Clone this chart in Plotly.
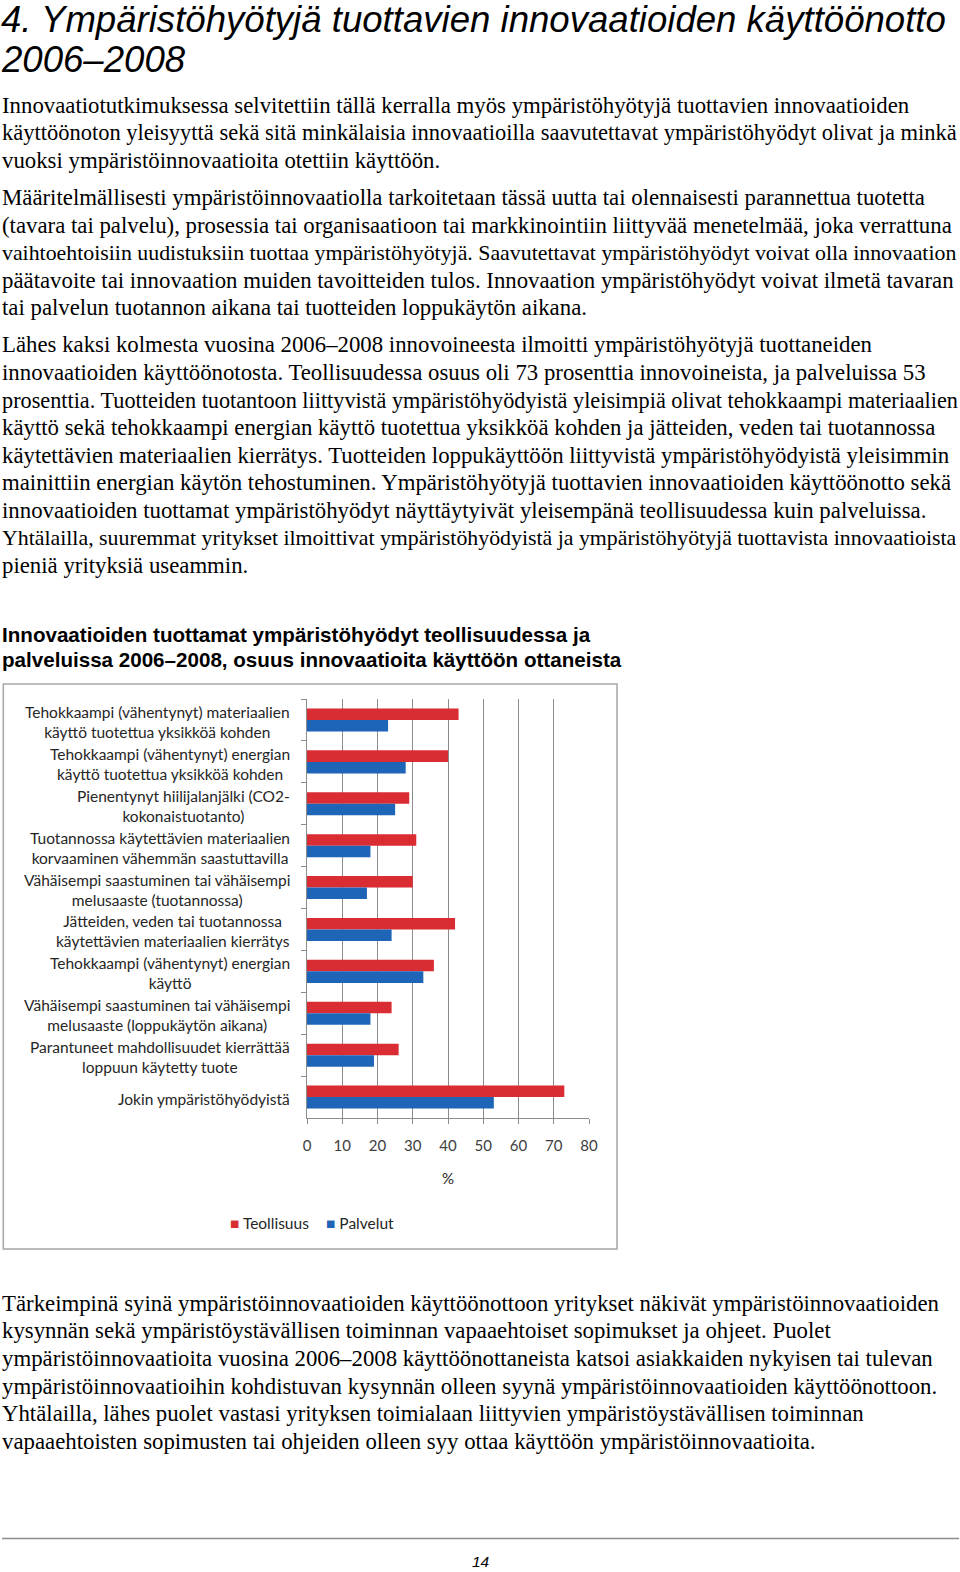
import plotly.graph_objects as go

# ---------------- data ----------------
categories = [
    "Tehokkaampi (vähentynyt) materiaalien<br>käyttö tuotettua yksikköä kohden",
    "Tehokkaampi (vähentynyt) energian<br>käyttö tuotettua yksikköä kohden",
    "Pienentynyt hiilijalanjälki (CO2-<br>kokonaistuotanto)",
    "Tuotannossa käytettävien materiaalien<br>korvaaminen vähemmän saastuttavilla",
    "Vähäisempi saastuminen tai vähäisempi<br>melusaaste (tuotannossa)",
    "Jätteiden, veden tai tuotannossa<br>käytettävien materiaalien kierrätys",
    "Tehokkaampi (vähentynyt) energian<br>käyttö",
    "Vähäisempi saastuminen tai vähäisempi<br>melusaaste (loppukäytön aikana)",
    "Parantuneet mahdollisuudet kierrättää<br>loppuun käytetty tuote",
    "Jokin ympäristöhyödyistä",
]
teollisuus = [43, 40, 29, 31, 30, 42, 36, 24, 26, 73]
palvelut = [23, 28, 25, 18, 17, 24, 33, 18, 19, 53]
series_names = ["Teollisuus", "Palvelut"]
x_ticks = [0, 10, 20, 30, 40, 50, 60, 70, 80]

title_lines = ["4. Ympäristöhyötyjä tuottavien innovaatioiden käyttöönotto", "2006–2008"]
para1 = [
    "Innovaatiotutkimuksessa selvitettiin tällä kerralla myös ympäristöhyötyjä tuottavien innovaatioiden",
    "käyttöönoton yleisyyttä sekä sitä minkälaisia innovaatioilla saavutettavat ympäristöhyödyt olivat ja minkä",
    "vuoksi ympäristöinnovaatioita otettiin käyttöön.",
]
para2 = [
    "Määritelmällisesti ympäristöinnovaatiolla tarkoitetaan tässä uutta tai olennaisesti parannettua tuotetta",
    "(tavara tai palvelu), prosessia tai organisaatioon tai markkinointiin liittyvää menetelmää, joka verrattuna",
    "vaihtoehtoisiin uudistuksiin tuottaa ympäristöhyötyjä. Saavutettavat ympäristöhyödyt voivat olla innovaation",
    "päätavoite tai innovaation muiden tavoitteiden tulos. Innovaation ympäristöhyödyt voivat ilmetä tavaran",
    "tai palvelun tuotannon aikana tai tuotteiden loppukäytön aikana.",
]
para3 = [
    "Lähes kaksi kolmesta vuosina 2006–2008 innovoineesta ilmoitti ympäristöhyötyjä tuottaneiden",
    "innovaatioiden käyttöönotosta. Teollisuudessa osuus oli 73 prosenttia innovoineista, ja palveluissa 53",
    "prosenttia. Tuotteiden tuotantoon liittyvistä ympäristöhyödyistä yleisimpiä olivat tehokkaampi materiaalien",
    "käyttö sekä tehokkaampi energian käyttö tuotettua yksikköä kohden ja jätteiden, veden tai tuotannossa",
    "käytettävien materiaalien kierrätys. Tuotteiden loppukäyttöön liittyvistä ympäristöhyödyistä yleisimmin",
    "mainittiin energian käytön tehostuminen. Ympäristöhyötyjä tuottavien innovaatioiden käyttöönotto sekä",
    "innovaatioiden tuottamat ympäristöhyödyt näyttäytyivät yleisempänä teollisuudessa kuin palveluissa.",
    "Yhtälailla, suuremmat yritykset ilmoittivat ympäristöhyödyistä ja ympäristöhyötyjä tuottavista innovaatioista",
    "pieniä yrityksiä useammin.",
]
chart_title = [
    "Innovaatioiden tuottamat ympäristöhyödyt teollisuudessa ja",
    "palveluissa 2006–2008, osuus innovaatioita käyttöön ottaneista",
]
para4 = [
    "Tärkeimpinä syinä ympäristöinnovaatioiden käyttöönottoon yritykset näkivät ympäristöinnovaatioiden",
    "kysynnän sekä ympäristöystävällisen toiminnan vapaaehtoiset sopimukset ja ohjeet. Puolet",
    "ympäristöinnovaatioita vuosina 2006–2008 käyttöönottaneista katsoi asiakkaiden nykyisen tai tulevan",
    "ympäristöinnovaatioihin kohdistuvan kysynnän olleen syynä ympäristöinnovaatioiden käyttöönottoon.",
    "Yhtälailla, lähes puolet vastasi yrityksen toimialaan liittyvien ympäristöystävällisen toiminnan",
    "vapaaehtoisten sopimusten tai ohjeiden olleen syy ottaa käyttöön ympäristöinnovaatioita.",
]
page_number = "14"
x_title = "%"

# ---------------- layout constants ----------------
W, H = 960, 1572
RED = "#DA2D33"
BLUE = "#1F65B7"
GRID = "#8c8c8c"
LABEL_FONT = "Lato, 'Open Sans', sans-serif"
SERIF = "'Liberation Serif', 'Times New Roman', serif"
SANS = "'Liberation Sans', Arial, sans-serif"
BODY_SIZE = 22.8
# tighter-set (justified) lines in the original
TIGHT = {("p1", 1): 22.5, ("p2", 2): 21.85, ("p3", 2): 22.25, ("p3", 7): 21.85}
TEXT_X = 2
STEP = 27.57


def py(y):
    return 1 - y / H


def px(x):
    return x / W


fig = go.Figure()
fig.add_trace(go.Bar(y=categories, x=teollisuus, name=series_names[0], orientation="h",
                     marker=dict(color=RED, line=dict(width=0))))
fig.add_trace(go.Bar(y=categories, x=palvelut, name=series_names[1], orientation="h",
                     marker=dict(color=BLUE, line=dict(width=0))))

annotations = []


def txt(text, x, y, size, family, xanchor="left", color="#000000", yref="paper", align="left", yshift=0):
    annotations.append(dict(
        text=text, x=px(x), y=(py(y) if yref == "paper" else y), xref="paper", yref=yref,
        xanchor=xanchor, yanchor="middle", showarrow=False, align=align, yshift=yshift,
        borderpad=0, borderwidth=0,
        font=dict(size=size, family=family, color=color),
    ))


def add_lines(key, lines, y0, step):
    for i, t in enumerate(lines):
        txt(t, TEXT_X, y0 + i * step, TIGHT.get((key, i), BODY_SIZE), SERIF)


# title
for i, t in enumerate(title_lines):
    txt("<i>" + t + "</i>", 1, 20 + i * 40, 36.6,
        "'Liberation Sans Narrow', 'Arial Narrow', 'Liberation Sans', sans-serif")

add_lines("p1", para1, 105.3, STEP)
add_lines("p2", para2, 197.5, STEP)
add_lines("p3", para3, 344.9, STEP)
add_lines("p4", para4, 1303.3, 27.6)

for i, t in enumerate(chart_title):
    txt("<b>" + t + "</b>", TEXT_X, 634 + i * 25, 20.6, SANS)

# category labels (centered multi-line, right-anchored)
for c in categories:
    txt(c, 290, c, 15.5, LABEL_FONT, xanchor="right", color="#262626", yref="y", align="center", yshift=-2)

# x axis title
txt(x_title, 448, 1178, 15, LABEL_FONT, xanchor="center", color="#262626")

# legend (as text swatches)
txt(f"<span style='color:{RED}'>■</span> {series_names[0]}", 230, 1223, 15.5, LABEL_FONT, color="#262626")
txt(f"<span style='color:{BLUE}'>■</span> {series_names[1]}", 326, 1223, 15.5, LABEL_FONT, color="#262626")

# page number
txt("<i>" + page_number + "</i>", 481, 1561, 15.5, SANS, xanchor="center")

shapes = [
    dict(type="rect", xref="paper", yref="paper", x0=px(3.3), x1=px(617), y0=py(684), y1=py(1249),
         line=dict(color="#a6a6a6", width=1.5), fillcolor="rgba(0,0,0,0)", layer="below"),
    dict(type="line", xref="paper", yref="paper", x0=px(2), x1=px(959), y0=py(1538.5), y1=py(1538.5),
         line=dict(color="#8c8c8c", width=1.5)),
]

fig.update_layout(
    width=W, height=H, autosize=False,
    margin=dict(l=0, r=0, t=0, b=0, pad=0, autoexpand=False),
    paper_bgcolor="white", plot_bgcolor="white",
    barmode="group", bargap=0.45, bargroupgap=0,
    showlegend=False,
    annotations=annotations,
    shapes=shapes,
    xaxis=dict(
        domain=[px(307), px(589)], range=[0, 80], tickvals=x_ticks, automargin=False,
        showgrid=True, gridcolor=GRID, gridwidth=1,
        ticks="outside", ticklen=5, tickcolor=GRID,
        showline=True, linecolor=GRID, linewidth=1, zeroline=False,
        tickfont=dict(size=15, family=LABEL_FONT, color="#404040"),
        ticklabelstandoff=9, fixedrange=True,
    ),
    yaxis=dict(
        domain=[py(1118), py(699)], type="category", autorange="reversed", automargin=False,
        showticklabels=False, ticks="outside", tickson="boundaries", ticklen=5, tickcolor=GRID,
        showline=True, linecolor=GRID, linewidth=1, showgrid=False, zeroline=False,
    ),
)

fig.write_html(
    "out.html",
    config={"displayModeBar": False, "responsive": False},
    post_script="document.body.style.margin='0px';document.body.style.overflow='hidden';"
                "document.documentElement.style.overflow='hidden';",
)
